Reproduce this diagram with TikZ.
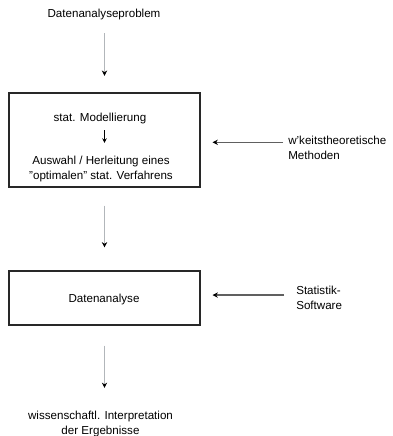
\documentclass[tikz,border=0pt]{standalone}
\usepackage{fontspec}
\setmainfont{Liberation Sans}
\usepackage{tikz}
\usetikzlibrary{arrows.meta, positioning}
\definecolor{cLine}{RGB}{178,182,186}
\definecolor{cSide}{RGB}{96,96,96}
\definecolor{cBox}{RGB}{40,40,40}
\tikzset{
	txt/.style      ={inner sep=0pt, align=center},
	sidetxt/.style  ={inner sep=0pt, align=left, anchor=north west},
	blk/.style      ={rectangle, draw=cBox, line width=0.8pt, minimum width=143.25pt},
	flow/.style     ={-{Stealth[length=4pt, width=4pt, color=black]}, draw=cLine, line width=1.1pt},
	sidearrow/.style={-{Stealth[length=4pt, width=4pt, color=black]}, draw=cSide, line width=0.9pt},
	innerarrow/.style={-{Stealth[length=3.5pt, width=3.5pt]}, draw=black, line width=0.7pt},
}

\begin{document}
\begin{tikzpicture}[x=0.75pt, y=-0.75pt, font=\fontsize{8.7pt}{11.6pt}\selectfont]
	\useasboundingbox[fill=white] (0,0) rectangle (393,436);
	\node[txt] (prob) at (104,14) {Datenanalyseproblem};
	\node[blk, minimum height=70.5pt] (box1) at (104.5,140) {};
	\node[txt] (mod) at (100,118) {stat. Modellierung};
	\node[txt] (ausw) at (101,169) {Auswahl / Herleitung eines\\ "optimalen" stat. Verfahrens};
	\node[sidetxt] (meth) at (288,135.5) {w'keitstheoretische\\ Methoden};
	\node[blk, minimum height=40.5pt] (box2) at (104.5,298) {};
	\node[txt] (ana) at (104,299) {Datenanalyse};
	\node[sidetxt] (soft) at (296,285.5) {Statistik-\\ Software};
	\node[txt] (interp) at (100.5,424) {wissenschaftl. Interpretation\\ der Ergebnisse};
	\draw[flow, shorten <=10.2pt, shorten >=12.5pt] (prob.south -| box1.north) -- (box1.north);
	\draw[innerarrow, shorten <=5pt, shorten >=9.5pt] (mod.south -| box1.center) -- (ausw.north -| box1.center);
	\draw[sidearrow, shorten <=3.75pt, shorten >=9pt] ([yshift=4.1pt]meth.west) -- ([yshift=4.1pt]meth.west -| box1.east);
	\draw[flow, shorten <=13.5pt, shorten >=17.25pt] (box1.south) -- (box2.north);
	\draw[sidearrow, shorten <=9pt, shorten >=9pt] ([yshift=2pt]soft.west) -- ([yshift=2pt]soft.west -| box2.east);
	\draw[flow, shorten <=15pt, shorten >=17pt] (box2.south) -- (interp.north -| box2.south);
\end{tikzpicture}
\end{document}
